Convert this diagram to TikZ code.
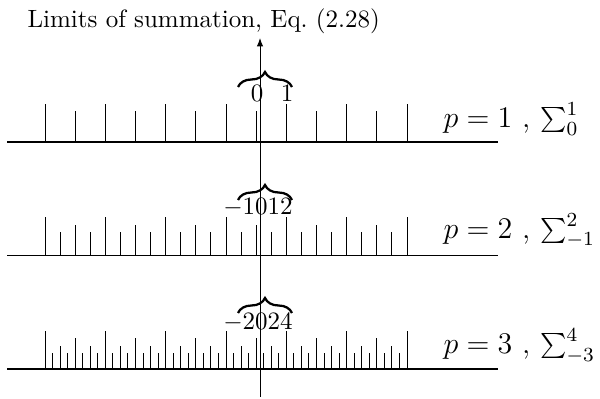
\documentclass[tikz,border=0pt]{standalone}
\usetikzlibrary{arrows.meta,decorations.pathreplacing}

\begin{document}
\begin{tikzpicture}[
  x=0.4pt, y=0.4pt,
  ruler/.style={draw, line width=0.6pt},
  tick/.style={draw, line width=0.4pt},
  limbrace/.style={decorate, decoration={brace, amplitude=6pt}, line width=0.9pt},
  ticklabel/.style={anchor=south, inner sep=0pt},
  rowlabel/.style={anchor=base west, inner sep=0pt, font=\large}
]
\useasboundingbox (0,0) rectangle (600,399);
\node[anchor=base west, inner sep=0pt] (title) at (27,371) {Limits of summation, Eq.~(2.28)};

% the three rulers, finer for larger p
\foreach \p/\y/\m/\lo/\hi/\dy in {1/257/1/0/1/14, 2/143.5/2/-1/2/17, 3/30/4/-3/4/15} {
  \coordinate (start\p) at (7,\y);
  \coordinate (end\p) at (498,\y);
  \draw[ruler] (start\p) -- (end\p);
  \pgfmathtruncatemacro\n{12*\m}
  \foreach \j in {0,...,\n} {
    \pgfmathtruncatemacro\k{\j*4/\m}
    \pgfmathsetmacro\h{15.5+7.5*(mod(\k,2)==0)+7.5*(mod(\k,4)==0)+7.5*(mod(\k,8)==0)}
    \draw[tick] ({45+\j*30.17/\m},\y) -- ++(0,\h);
  }
  \node[rowlabel] (lim\p) at (443,\y+\dy) {$p=\p$ , $\sum_{\lo}^{\hi}$};
}

% labels over the origin
\node[ticklabel] (zero1) at (257,297) {$0$};
\node[ticklabel] (one1) at (287,297) {$1$};
\node[ticklabel] (lab2) at (258,182) {$-1012$};
\node[ticklabel] (lab3) at (258,67) {$-2024$};

% braces
\foreach \p/\yb in {1/312, 2/199, 3/86} {
  \coordinate (bl\p) at (238,\yb);
  \coordinate (br\p) at (292,\yb);
  \draw[limbrace] (bl\p) -- (br\p);
}

% vertical axis
\coordinate (axisbot) at (260,2);
\coordinate (axistop) at (260,361);
\draw[-{Latex[length=3.4pt,width=2.6pt]}] (axisbot) -- (axistop);
\end{tikzpicture}
\end{document}
